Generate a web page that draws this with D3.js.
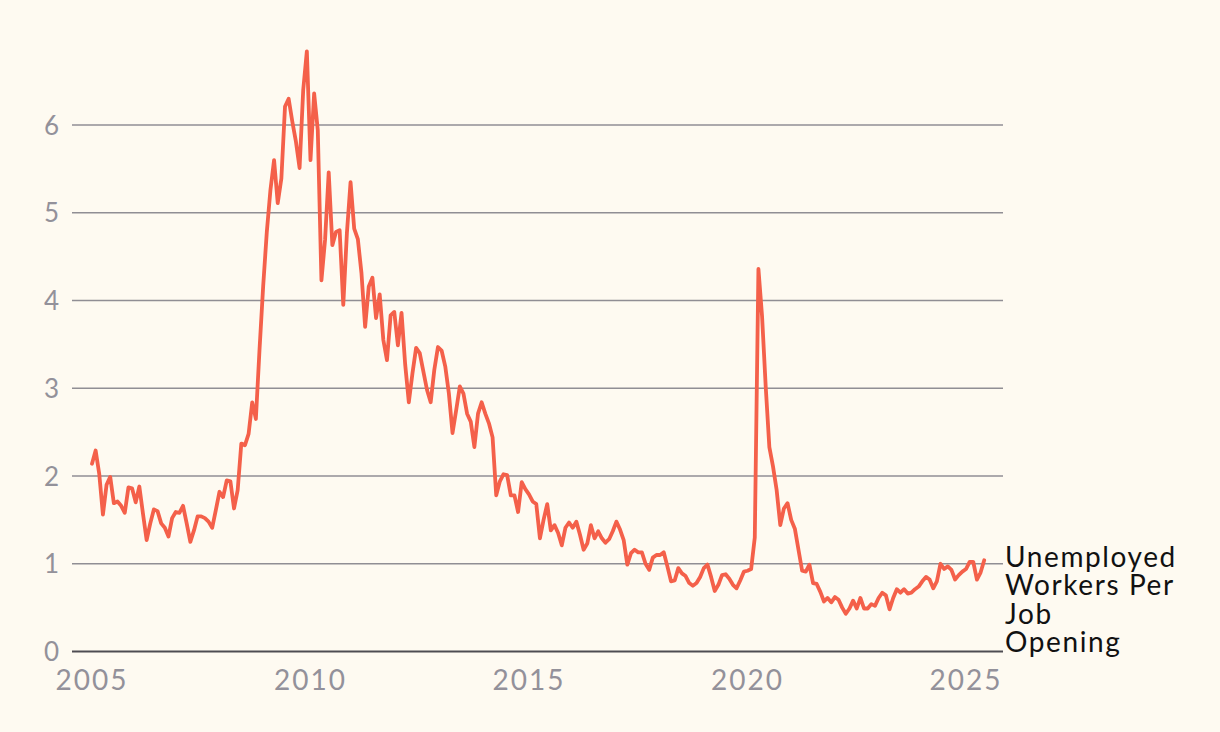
<!DOCTYPE html>
<html>
<head>
<meta charset="utf-8">
<script src="https://cdn.jsdelivr.net/npm/d3@7"></script>
<style>
  html, body { margin: 0; padding: 0; background: #fefaf1; }
  svg { display: block; }
</style>
</head>
<body>
<div id="chart"></div>
<script>
// ---- data ----
const startYear = 2005;          // first observation: January 2005, monthly
const seriesName = "Unemployed Workers Per Job Opening";
const labelLines = ["Unemployed", "Workers Per", "Job", "Opening"];
const values = [
  2.14,2.29,2.02,1.56,1.90,1.99,1.69,1.71,1.66,1.58,1.87,1.86,
  1.70,1.88,1.57,1.27,1.46,1.62,1.60,1.46,1.41,1.31,1.52,1.59,
  1.58,1.66,1.46,1.25,1.38,1.54,1.54,1.52,1.48,1.41,1.61,1.82,
  1.76,1.95,1.94,1.63,1.84,2.37,2.35,2.48,2.84,2.65,3.44,4.16,
  4.78,5.26,5.60,5.11,5.39,6.21,6.30,6.04,5.81,5.51,6.40,6.84,
  5.60,6.36,5.94,4.23,4.69,5.46,4.63,4.78,4.80,3.95,4.77,5.35,
  4.82,4.70,4.31,3.70,4.16,4.26,3.80,4.07,3.55,3.32,3.83,3.87,
  3.49,3.86,3.27,2.84,3.17,3.46,3.40,3.19,2.98,2.84,3.21,3.47,
  3.43,3.25,2.94,2.49,2.75,3.02,2.94,2.71,2.62,2.33,2.71,2.84,
  2.71,2.60,2.44,1.78,1.94,2.02,2.01,1.78,1.78,1.59,1.93,1.85,
  1.79,1.71,1.68,1.29,1.50,1.68,1.38,1.44,1.35,1.21,1.41,1.47,
  1.41,1.48,1.33,1.16,1.23,1.44,1.29,1.37,1.29,1.24,1.28,1.37,
  1.48,1.39,1.27,0.99,1.12,1.16,1.13,1.13,1.00,0.93,1.07,1.10,
  1.10,1.13,0.97,0.80,0.81,0.95,0.89,0.86,0.78,0.75,0.78,0.85,
  0.95,0.99,0.85,0.69,0.76,0.87,0.88,0.83,0.76,0.72,0.81,0.91,
  0.92,0.94,1.30,4.36,3.82,3.02,2.33,2.11,1.84,1.44,1.63,1.69,
  1.50,1.40,1.16,0.92,0.91,0.99,0.78,0.77,0.68,0.57,0.61,0.56,
  0.62,0.59,0.50,0.43,0.49,0.58,0.49,0.61,0.49,0.49,0.54,0.52,
  0.61,0.67,0.64,0.48,0.61,0.71,0.67,0.71,0.66,0.67,0.71,0.74,
  0.80,0.85,0.82,0.72,0.80,1.00,0.94,0.97,0.93,0.82,0.87,0.91,
  0.94,1.02,1.02,0.82,0.90,1.04
];
const xTicks = [2005, 2010, 2015, 2020, 2025];
const yTicks = [0, 1, 2, 3, 4, 5, 6];

// ---- layout ----
const W = 1220, H = 732;
const gridLeft = 72, gridRight = 1003;
const svg = d3.select("#chart").append("svg").attr("width", W).attr("height", H);

const x = d3.scaleLinear().domain([2005, 2025]).range([92, 966]);
const y = d3.scaleLinear().domain([0, 6]).range([651.5, 125]);

const data = values.map((v, i) => ({ t: startYear + i / 12, v }));

// gridlines
const grid = svg.append("g");
grid.selectAll("line").data(yTicks).join("line")
  .attr("x1", gridLeft).attr("x2", gridRight)
  .attr("y1", d => y(d)).attr("y2", d => y(d))
  .attr("stroke", d => d === 0 ? "#4e4c52" : "#908e94")
  .attr("stroke-width", d => d === 0 ? 2 : 1.6);

// y labels
svg.append("g").selectAll("text").data(yTicks).join("text")
  .attr("x", 60).attr("y", d => y(d) + 9.5)
  .attr("text-anchor", "end")
  .attr("font-family", "Lato, 'Open Sans', sans-serif")
  .attr("font-size", 26)
  .attr("letter-spacing", 1)
  .attr("fill", "#93919a")
  .text(d => d);

// x labels
svg.append("g").selectAll("text").data(xTicks).join("text")
  .attr("x", d => x(d)).attr("y", 690)
  .attr("text-anchor", "middle")
  .attr("font-family", "Lato, 'Open Sans', sans-serif")
  .attr("font-size", 28)
  .attr("letter-spacing", 2)
  .attr("fill", "#93919a")
  .text(d => d);

// line
const line = d3.line().x(d => x(d.t)).y(d => y(d.v)).curve(d3.curveLinear);
svg.append("path").datum(data)
  .attr("d", line)
  .attr("fill", "none")
  .attr("stroke", "#f4604a")
  .attr("stroke-width", 3.8)
  .attr("stroke-linejoin", "round")
  .attr("stroke-linecap", "round");

// series label
const lab = svg.append("text")
  .attr("x", 1005).attr("y", 567)
  .attr("font-family", "Lato, 'Open Sans', sans-serif")
  .attr("font-size", 28)
  .attr("letter-spacing", 1.6)
  .attr("fill", "#111111");
lab.selectAll("tspan").data(labelLines).join("tspan")
  .attr("x", 1005).attr("dy", (d, i) => i === 0 ? 0 : 28.3)
  .text(d => d);
</script>
</body>
</html>
